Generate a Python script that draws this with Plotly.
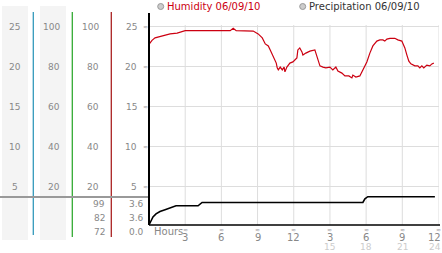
import plotly.graph_objects as go

# ---------------- data ----------------
hum_hours = [0.0, 0.25, 0.5, 0.9, 1.33, 1.75, 2.33, 3.0, 6.73, 6.98, 7.23, 8.64, 9.05, 9.39, 9.64,
             9.89, 10.05, 10.3, 10.55, 10.63, 10.72, 10.88, 11.05, 11.2, 11.27, 11.43, 11.68, 11.93,
             12.18, 12.26, 12.34, 12.5, 12.68, 12.76, 13.0, 13.34, 13.75, 14.0, 14.17, 14.42, 14.66,
             15.0, 15.24, 15.49, 15.66, 15.99, 16.24, 16.57, 16.82, 16.9, 17.15, 17.48, 17.73, 18.06,
             18.31, 18.56, 18.89, 19.14, 19.39, 19.55, 19.72, 19.97, 20.38, 20.63, 20.96, 21.21,
             21.38, 21.54, 21.71, 21.87, 22.04, 22.29, 22.45, 22.62, 22.78, 23.03, 23.28, 23.45, 23.61]
humidity = [22.8, 23.3, 23.6, 23.75, 24.0, 24.1, 24.2, 24.5, 24.5, 24.8, 24.5, 24.45, 24.1, 23.6, 22.85,
            22.6, 22.1, 21.2, 20.45, 19.85, 19.6, 19.95, 19.6, 19.95, 19.35, 19.95, 20.45, 20.6,
            20.95, 21.1, 22.1, 22.35, 21.85, 21.45, 21.7, 21.95, 22.1, 20.85, 20.1, 19.95, 19.85,
            19.95, 19.6, 19.95, 19.45, 19.2, 18.85, 18.85, 18.6, 18.95, 18.7, 18.85, 19.6, 20.6,
            21.7, 22.6, 23.2, 23.35, 23.35, 23.2, 23.45, 23.55, 23.55, 23.35, 23.2, 22.35,
            21.45, 20.7, 20.35, 20.2, 20.1, 20.1, 19.85, 20.1, 19.85, 20.2, 20.1, 20.35, 20.45]

prec_hours = [0.0, 0.17, 0.33, 0.58, 0.91, 1.33, 1.74, 1.99, 2.24, 4.07, 4.23, 4.4, 17.73, 17.9, 18.14, 23.7]
precip = [0.0, 0.64, 1.03, 1.41, 1.71, 1.93, 2.12, 2.31, 2.44, 2.44, 2.64, 2.87, 2.87, 3.34, 3.6, 3.6]

grid_vals = [5, 10, 15, 20, 25]
col1_labels = ["5", "10", "15", "20", "25"]
col2_labels = ["20", "40", "60", "80", "100"]
col3_labels = ["20", "40", "60", "80", "100"]
col4_labels = ["5", "10", "15", "20", "25"]
stat_left = ["99", "82", "72"]
stat_right = ["3.6", "3.6", "0.0"]

x_ticks = [3, 6, 9, 12, 15, 18, 21, 24]
x_labels = ["3", "6", "9", "12", "3", "6", "9", "12"]
x_ticks2 = [15, 18, 21, 24]
x_labels2 = ["15", "18", "21", "24"]

# ---------------- geometry helpers ----------------
W, H = 442, 253
def px(x):
    return x / W
def py(y):
    return 1 - y / H

FONT = "DejaVu Sans"
GRAY = "#888888"
GRID = "#dddddd"

# upper axis: 25 at 26.7px, 8 px per unit
k1 = 8.0
top1, bot1 = 25.5, 197.0
y1_range = [25 - (bot1 - 26.7) / k1, 25 + (26.7 - top1) / k1]
# lower axis: 0 at 225px, 7.86 px per unit
k2 = 7.86
top2, bot2 = 193.0, 227.0
y2_range = [-(bot2 - 225) / k2, (225 - top2) / k2]

fig = go.Figure()
fig.add_trace(go.Scatter(x=hum_hours, y=humidity, mode="lines",
                         line=dict(color="#cc0011", width=1.2), xaxis="x", yaxis="y",
                         hoverinfo="skip"))
fig.add_trace(go.Scatter(x=prec_hours, y=precip, mode="lines",
                         line=dict(color="#000000", width=1.6), xaxis="x", yaxis="y2",
                         hoverinfo="skip"))

shapes = []
annotations = []

# left column backgrounds
for x0, x1 in [(2, 28), (40, 66)]:
    shapes.append(dict(type="rect", xref="paper", yref="paper", x0=px(x0), x1=px(x1),
                       y0=py(240), y1=py(6), fillcolor="#f4f4f4", line=dict(width=0), layer="below"))
# coloured separator lines
for xx, color, yb in [(33.3, "#3399bb", 235), (72.3, "#33aa33", 237), (111.3, "#aa2222", 237)]:
    shapes.append(dict(type="line", xref="paper", yref="paper", x0=px(xx), x1=px(xx),
                       y0=py(yb), y1=py(12), line=dict(color=color, width=1.3)))
# gray horizontal separator on the left
shapes.append(dict(type="line", xref="paper", yref="paper", x0=0, x1=px(149), y0=py(197), y1=py(197),
                   line=dict(color="#999999", width=2)))

# vertical grid lines
for t in x_ticks:
    shapes.append(dict(type="line", xref="x", yref="paper", x0=t, x1=t, y0=py(225), y1=py(25),
                       line=dict(color=GRID, width=1), layer="below"))
# baseline and left axis
shapes.append(dict(type="line", xref="paper", yref="paper", x0=px(149), x1=px(440), y0=py(225), y1=py(225),
                   line=dict(color="#000000", width=1.5)))
shapes.append(dict(type="line", xref="paper", yref="paper", x0=px(149), x1=px(149), y0=py(225), y1=py(13),
                   line=dict(color="#000000", width=2)))

# legend markers
for cx in [160.7, 302.7]:
    shapes.append(dict(type="circle", xref="paper", yref="paper", x0=px(cx - 3), x1=px(cx + 3),
                       y0=py(9.5), y1=py(3.5), fillcolor="#cccccc", line=dict(color="#999999", width=1)))
annotations.append(dict(text="Humidity 06/09/10", x=px(164.5), y=py(7), xref="paper", yref="paper",
                        xanchor="left", yanchor="middle", showarrow=False,
                        font=dict(family=FONT, size=10, color="#cc0011")))
annotations.append(dict(text="Precipitation 06/09/10", x=px(306.5), y=py(7), xref="paper", yref="paper",
                        xanchor="left", yanchor="middle", showarrow=False,
                        font=dict(family=FONT, size=10, color="#333333")))

def ann(text, x, y, yref, xanchor, size=9, color=GRAY, xref="paper"):
    annotations.append(dict(text=text, x=x, y=y, xref=xref, yref=yref, xanchor=xanchor,
                            yanchor="middle", showarrow=False, borderpad=0,
                            font=dict(family=FONT, size=size, color=color)))

for i, v in enumerate(grid_vals):
    ann(col1_labels[i], px(15), v, "y", "center")
    ann(col2_labels[i], px(61), v, "y", "right")
    ann(col3_labels[i], px(100), v, "y", "right")
    ann(col4_labels[i], px(138), v, "y", "right")
    ann("≈", px(145.5), v, "y", "center", size=6, color="#999999")

for i, yy in enumerate([204, 218, 232]):
    ann(stat_left[i], px(106), py(yy), "paper", "right")
    ann(stat_right[i], px(145), py(yy), "paper", "right")

# x labels
ann("Hours", px(153), py(231.5), "paper", "left", size=10)
last = x_ticks[-1]
for t, lab in zip(x_ticks, x_labels):
    ann("≈", t, py(229.5), "paper", "center", size=6, color="#999999", xref="x")
    if t == last:
        ann(lab, px(441.5), py(237.5), "paper", "right", size=10)
    else:
        ann(lab, t, py(237.5), "paper", "center", size=10, xref="x")
for t, lab in zip(x_ticks2, x_labels2):
    if t == last:
        ann(lab, px(441.5), py(246.5), "paper", "right", size=9, color="#cccccc")
    else:
        ann(lab, t, py(246.5), "paper", "center", size=9, color="#cccccc", xref="x")

fig.update_layout(
    width=W, height=H, margin=dict(l=0, r=0, t=0, b=0),
    paper_bgcolor="white", plot_bgcolor="rgba(0,0,0,0)", showlegend=False,
    xaxis=dict(domain=[px(149), px(438.5)], range=[0, 24], showgrid=False, zeroline=False,
               showticklabels=False, showline=False, anchor="y2"),
    yaxis=dict(domain=[py(bot1), py(top1)], range=y1_range, tickvals=grid_vals, showgrid=True,
               gridcolor=GRID, gridwidth=1, zeroline=False, showticklabels=False, showline=False),
    yaxis2=dict(domain=[py(bot2), py(top2)], range=y2_range, showgrid=False, zeroline=False,
                showticklabels=False, showline=False),
    shapes=shapes, annotations=annotations,
)

fig.write_html("out.html")
